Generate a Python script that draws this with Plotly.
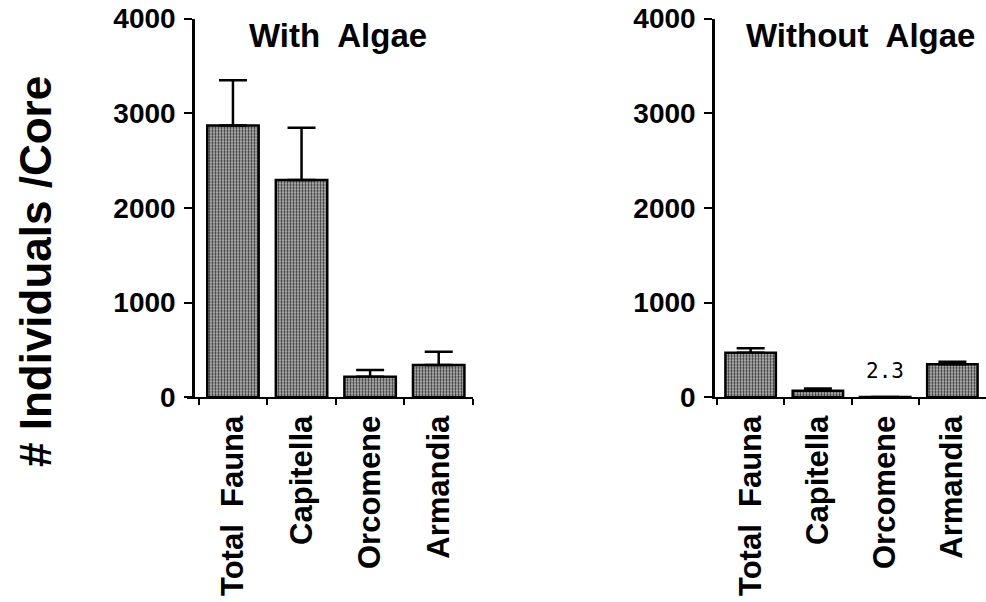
import plotly.graph_objects as go

categories = ["Total  Fauna", "Capitella", "Orcomene", "Armandia"]
with_algae = [2870, 2295, 218, 341]
with_algae_err = [478, 552, 70, 141]
without_algae = [471, 70, 2.3, 348]
without_algae_err = [46, 22, 0, 28]
y_ticks = [0, 1000, 2000, 3000, 4000]

W, H = 986, 602
FONT = "Liberation Sans, Arial, Helvetica, sans-serif"

def px_x(p):
    return p / W

def px_y(p):
    return 1 - p / H

bar_style = dict(
    marker=dict(
        color="#a0a0a0",
        line=dict(color="black", width=2.5),
        pattern=dict(shape=".", size=3, solidity=0.45, fgcolor="#303030", bgcolor="#c0c0c0", fillmode="replace"),
    ),
    width=0.75,
    showlegend=False,
)

fig = go.Figure()
fig.add_trace(go.Bar(
    x=categories, y=with_algae, xaxis="x", yaxis="y",
    error_y=dict(type="data", array=with_algae_err, arrayminus=[0] * len(with_algae_err),
                 symmetric=False, thickness=2.5, width=14, color="black"),
    **bar_style,
))
fig.add_trace(go.Bar(
    x=categories, y=without_algae, xaxis="x2", yaxis="y2",
    error_y=dict(type="data", array=without_algae_err, arrayminus=[0] * len(without_algae_err),
                 symmetric=False, thickness=2.5, width=14, color="black"),
    **bar_style,
))

ydom = [px_y(397.3), px_y(18.5)]

xaxis_common = dict(
    type="category", tickson="boundaries", ticks="outside", ticklen=6, tickwidth=2,
    tickcolor="black", showline=True, linecolor="black", linewidth=2, showgrid=False,
    zeroline=False, tickangle=-90, ticklabelstandoff=4, automargin=False,
    tickfont=dict(family=FONT, size=31, color="black", weight="bold"),
)
yaxis_common = dict(
    range=[0, 4000], tickvals=y_ticks, ticks="outside", ticklen=8, tickwidth=2,
    tickcolor="black", showline=True, linecolor="black", linewidth=2.5, showgrid=False,
    zeroline=False, domain=ydom, automargin=False, ticklabelstandoff=3,
    tickfont=dict(family=FONT, size=28, color="black", weight="bold"),
)

fig.update_layout(
    template="none",
    width=W, height=H,
    margin=dict(l=0, r=0, t=0, b=0, pad=0),
    paper_bgcolor="white", plot_bgcolor="white",
    bargap=0.25,
    xaxis=dict(domain=[px_x(187), px_x(473)], range=[-0.67, 3.5], anchor="y", **xaxis_common),
    yaxis=dict(anchor="free", position=px_x(193), **yaxis_common),
    xaxis2=dict(domain=[px_x(715), 1.0], range=[-0.53, 3.5], anchor="y2", **xaxis_common),
    yaxis2=dict(anchor="x2", **yaxis_common),
    annotations=[
        dict(text="With  Algae", x=px_x(338), y=px_y(36), xref="paper", yref="paper",
             showarrow=False, xanchor="center", yanchor="middle",
             font=dict(family=FONT, size=33, color="black", weight="bold")),
        dict(text="Without  Algae", x=px_x(860), y=px_y(36), xref="paper", yref="paper",
             showarrow=False, xanchor="center", yanchor="middle",
             font=dict(family=FONT, size=33, color="black", weight="bold")),
        dict(text="# Individuals /Core", x=px_x(35), y=px_y(272), xref="paper", yref="paper",
             showarrow=False, xanchor="center", yanchor="middle", textangle=-90,
             font=dict(family=FONT, size=44, color="black", weight="bold")),
        dict(text="2.3", x=2, y=without_algae[2], xref="x2", yref="y2",
             showarrow=False, xanchor="center", yanchor="bottom", yshift=12,
             font=dict(family="DejaVu Sans Mono, monospace", size=21, color="black")),
    ],
)

fig.write_html("out.html")
